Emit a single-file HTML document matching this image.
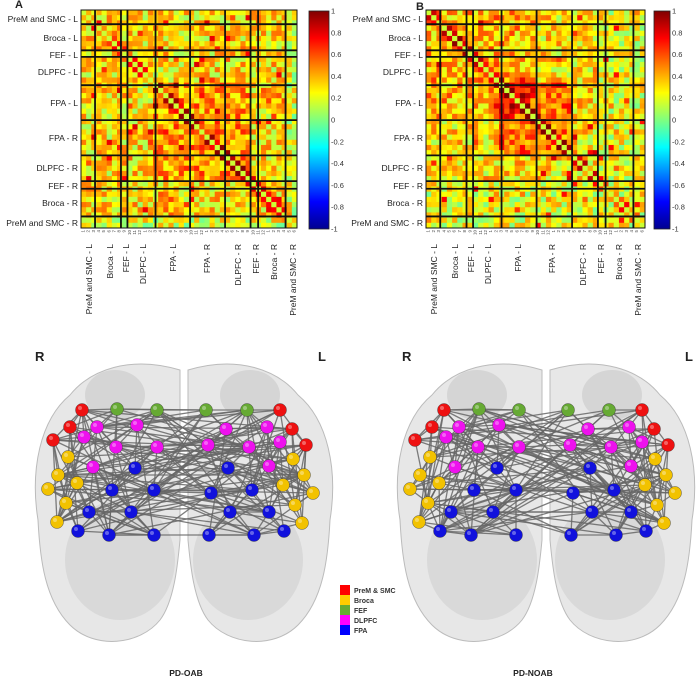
<!DOCTYPE html>
<html><head><meta charset="utf-8"><style>
html,body{margin:0;padding:0;background:#fff;}
body{width:700px;height:693px;overflow:hidden;position:relative;font-family:"Liberation Sans",sans-serif;}
svg{position:absolute;left:0;top:0;}
</style></head><body>
<svg id="s" width="700" height="693" viewBox="0 0 700 693" xmlns="http://www.w3.org/2000/svg">
<defs>
<linearGradient id="jet" x1="0" y1="1" x2="0" y2="0">
<stop offset="0" stop-color="#00008f"/><stop offset="0.125" stop-color="#0000ff"/><stop offset="0.375" stop-color="#00ffff"/><stop offset="0.5" stop-color="#7fff7f"/><stop offset="0.625" stop-color="#ffff00"/><stop offset="0.875" stop-color="#ff0000"/><stop offset="1" stop-color="#800000"/>
</linearGradient>
</defs>
<g id="brains"></g>
<g id="mats"></g>
<g font-size="8.5" fill="#222" text-anchor="end">
<text x="15" y="8" font-size="11" font-weight="bold" text-anchor="start">A</text>
<text x="78" y="22">PreM and SMC - L</text><text x="78" y="41">Broca - L</text><text x="78" y="58">FEF - L</text><text x="78" y="75">DLPFC - L</text><text x="78" y="106">FPA - L</text><text x="78" y="141">FPA - R</text><text x="78" y="171">DLPFC - R</text><text x="78" y="189">FEF - R</text><text x="78" y="206">Broca - R</text><text x="78" y="226">PreM and SMC - R</text>
<text x="416" y="10" font-size="11" font-weight="bold" text-anchor="start">B</text>
<text x="423" y="22">PreM and SMC - L</text><text x="423" y="41">Broca - L</text><text x="423" y="58">FEF - L</text><text x="423" y="75">DLPFC - L</text><text x="423" y="106">FPA - L</text><text x="423" y="141">FPA - R</text><text x="423" y="171">DLPFC - R</text><text x="423" y="189">FEF - R</text><text x="423" y="206">Broca - R</text><text x="423" y="226">PreM and SMC - R</text>
</g>
<g font-size="8.5" fill="#222" text-anchor="end">
<text transform="translate(92,244) rotate(-90)">PreM and SMC - L</text>
<text transform="translate(113,244) rotate(-90)">Broca - L</text>
<text transform="translate(129,244) rotate(-90)">FEF - L</text>
<text transform="translate(146,244) rotate(-90)">DLPFC - L</text>
<text transform="translate(176,244) rotate(-90)">FPA - L</text>
<text transform="translate(210,244) rotate(-90)">FPA - R</text>
<text transform="translate(241,244) rotate(-90)">DLPFC - R</text>
<text transform="translate(259,244) rotate(-90)">FEF - R</text>
<text transform="translate(277,244) rotate(-90)">Broca - R</text>
<text transform="translate(296,244) rotate(-90)">PreM and SMC - R</text>
<text transform="translate(437,244) rotate(-90)">PreM and SMC - L</text>
<text transform="translate(458,244) rotate(-90)">Broca - L</text>
<text transform="translate(474,244) rotate(-90)">FEF - L</text>
<text transform="translate(491,244) rotate(-90)">DLPFC - L</text>
<text transform="translate(521,244) rotate(-90)">FPA - L</text>
<text transform="translate(555,244) rotate(-90)">FPA - R</text>
<text transform="translate(586,244) rotate(-90)">DLPFC - R</text>
<text transform="translate(604,244) rotate(-90)">FEF - R</text>
<text transform="translate(622,244) rotate(-90)">Broca - R</text>
<text transform="translate(641,244) rotate(-90)">PreM and SMC - R</text>
</g>
<g id="cb" font-size="7.5" fill="#333"></g>
<g font-size="13" font-weight="bold" fill="#222">
<text x="35" y="361">R</text><text x="318" y="361">L</text>
<text x="402" y="361">R</text><text x="685" y="361">L</text>
</g>
<g font-size="8.5" font-weight="bold" fill="#222" text-anchor="middle">
<text x="186" y="676">PD-OAB</text><text x="533" y="676">PD-NOAB</text>
</g>
<g font-size="7" font-weight="bold" fill="#333">
<rect x="340" y="585" width="10" height="10" fill="#ff0000"/><text x="354" y="593">PreM &amp; SMC</text>
<rect x="340" y="595" width="10" height="10" fill="#ffcc00"/><text x="354" y="603">Broca</text>
<rect x="340" y="605" width="10" height="10" fill="#66aa33"/><text x="354" y="613">FEF</text>
<rect x="340" y="615" width="10" height="10" fill="#ff00ff"/><text x="354" y="623">DLPFC</text>
<rect x="340" y="625" width="10" height="10" fill="#0000ff"/><text x="354" y="633">FPA</text>
</g>
</svg>
<script>
(function(){
var NS="http://www.w3.org/2000/svg";
function el(p,t,a){var e=document.createElementNS(NS,t);for(var k in a)e.setAttribute(k,a[k]);p.appendChild(e);return e;}
var seed=7;function rnd(){seed=(seed*16807)%2147483647;return seed/2147483647;}
function jet(v){var t=(v+1)/2;t=Math.max(0,Math.min(1,t));
 function c(x){return Math.round(255*Math.max(0,Math.min(1,x)));}
 var r=c(1.5-Math.abs(4*t-3)),g=c(1.5-Math.abs(4*t-2)),b=c(1.5-Math.abs(4*t-1));return "rgb("+r+","+g+","+b+")";}
var mats=document.getElementById("mats");
var fr=[0.065,0.185,0.215,0.345,0.505,0.667,0.785,0.82,0.947];
var N=42;
function groupOf(i){var f=(i+0.5)/N,g=0;for(var k=0;k<fr.length;k++)if(f>fr[k])g=k+1;return g;}
function mat(x0,y0,w,h,B){
 var cw=w/N,ch=h/N,M=[];
 for(var i=0;i<N;i++){M[i]=[];for(var j=0;j<N;j++){
  if(j<i){M[i][j]=M[j][i];continue;}
  var gi=groupOf(i),gj=groupOf(j),v;
  if(i==j)v=0.15;
  else{v=0.3+(rnd()-0.5)*0.5;
   if(Math.abs(i-j)==1)v+=0.35;
   if(!B){ if(gi>=4&&gi<=6&&gj>=4&&gj<=6)v+=0.15; if(gi==9||gj==9)v-=0.1;}
   else{ if((gi==4||gi==5)&&(gj==4||gj==5))v+=0.22; if(gi<=4&&gj<=4)v+=0.1; if(gi>=7||gj>=7)v-=0.08;}
   if(rnd()<0.05)v+=0.3;}
  M[i][j]=v;}}
 for(var i=0;i<N;i++)for(var j=0;j<N;j++)el(mats,"rect",{x:(x0+j*cw).toFixed(2),y:(y0+i*ch).toFixed(2),width:(cw+0.4).toFixed(2),height:(ch+0.4).toFixed(2),fill:jet(M[i][j])});
 el(mats,"rect",{x:x0,y:y0,width:w,height:h,fill:"none",stroke:"#111","stroke-width":1});
 fr.forEach(function(f){el(mats,"line",{x1:x0+f*w,y1:y0,x2:x0+f*w,y2:y0+h,stroke:"#111","stroke-width":1.8});
  el(mats,"line",{x1:x0,y1:y0+f*h,x2:x0+w,y2:y0+f*h,stroke:"#111","stroke-width":1.8});});
 var tg=el(mats,"g",{"font-size":"4.5",fill:"#444","text-anchor":"end"});
 for(var k=0;k<N;k++){var t=el(tg,"text",{transform:"translate("+(x0+(k+0.7)*cw).toFixed(1)+","+(y0+h+2)+") rotate(-90)"});t.textContent=(k%12)+1;}
}
mat(81,10,216,218,false);
mat(426,10,219,218,true);
var cb=document.getElementById("cb");
[[309,11,20,218,331],[654,11,16,218,672]].forEach(function(c){
 el(cb,"rect",{x:c[0],y:c[1],width:c[2],height:c[3],fill:"url(#jet)",stroke:"#222","stroke-width":0.8});
 for(var k=0;k<=10;k++){var v=1-k*0.2,y=c[1]+k*c[3]/10;var t=el(cb,"text",{x:c[4],y:(y+2.5).toFixed(1)});t.textContent=(Math.abs(v)<1e-9?"0":(Math.round(v*10)/10).toString());}
});
var bg=document.getElementById("brains");
var nodes=[
["#ee1111",[[82,410],[70,427],[53,440],[280,410],[292,429],[306,445]]],
["#66aa33",[[117,409],[157,410],[206,410],[247,410]]],
["#ee11ee",[[97,427],[84,437],[137,425],[116,447],[157,447],[93,467],[226,429],[208,445],[249,447],[267,427],[280,442],[269,466]]],
["#f2c200",[[68,457],[58,475],[48,489],[77,483],[66,503],[57,522],[293,459],[304,475],[283,485],[313,493],[295,505],[302,523]]],
["#1111dd",[[135,468],[112,490],[154,490],[89,512],[131,512],[78,531],[109,535],[154,535],[228,468],[211,493],[252,490],[230,512],[269,512],[209,535],[254,535],[284,531]]]];
function brain(dx,sd){
 var g=el(bg,"g",{});
 var sh="fill:#d4d4d4;fill-opacity:0.55;stroke:#bbb;stroke-width:1";
 el(g,"path",{d:"M180 370 C130 355 90 370 70 395 C40 420 30 470 38 520 C40 560 45 600 70 625 C95 650 140 645 160 620 C175 600 178 560 180 540 Z",style:sh,transform:"translate("+dx+",0)"});
 el(g,"path",{d:"M188 370 C238 355 278 370 298 395 C328 420 338 470 330 520 C328 560 323 600 298 625 C273 650 228 645 208 620 C193 600 190 560 188 540 Z",style:sh,transform:"translate("+dx+",0)"});
 el(g,"ellipse",{cx:dx+120,cy:560,rx:55,ry:60,style:"fill:#c8c8c8;fill-opacity:0.45"});
 el(g,"ellipse",{cx:dx+248,cy:560,rx:55,ry:60,style:"fill:#c8c8c8;fill-opacity:0.45"});
 el(g,"ellipse",{cx:dx+115,cy:395,rx:30,ry:25,style:"fill:#c4c4c4;fill-opacity:0.5"});
 el(g,"ellipse",{cx:dx+250,cy:395,rx:30,ry:25,style:"fill:#c4c4c4;fill-opacity:0.5"});
 var all=[];nodes.forEach(function(n){n[1].forEach(function(p){all.push(p);});});
 seed=sd;
 var lg=el(g,"g",{stroke:"#666","stroke-width":1.3,"stroke-opacity":0.85});
 for(var i=0;i<all.length;i++)for(var j=i+1;j<all.length;j++){
  var d=Math.hypot(all[i][0]-all[j][0],all[i][1]-all[j][1]);
  var p=d<45?0.55:(d<120?0.22:0.12);
  if(rnd()<p)el(lg,"line",{x1:all[i][0]+dx,y1:all[i][1],x2:all[j][0]+dx,y2:all[j][1]});}
 nodes.forEach(function(n){n[1].forEach(function(p){
  el(g,"circle",{cx:p[0]+dx,cy:p[1],r:6.5,fill:n[0],stroke:"#333","stroke-width":0.4});
  el(g,"circle",{cx:p[0]+dx-2,cy:p[1]-2,r:2,fill:"#fff","fill-opacity":0.35});});});
}
brain(0,11);brain(362,23);
})();
</script>
</body></html>
